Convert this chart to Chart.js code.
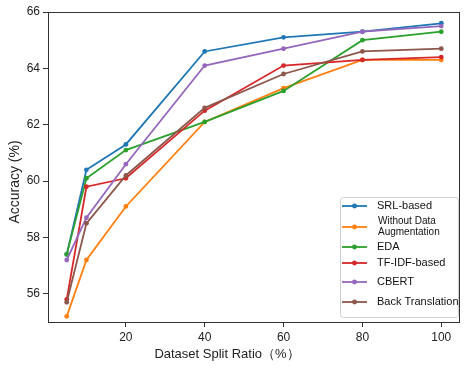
<!DOCTYPE html>
<html>
<head>
<meta charset="utf-8">
<script src="https://cdn.jsdelivr.net/npm/chart.js@4"></script>
<style>
  html, body { margin: 0; padding: 0; background: #fff; }
</style>
</head>
<body>
<canvas id="accChart" width="469" height="370"></canvas>
<script>
const splitRatios = [5, 10, 20, 40, 60, 80, 100];
const srlBased = [57.4, 60.4, 61.3, 64.6, 65.1, 65.3, 65.6];
const withoutAug = [55.2, 57.2, 59.1, 62.1, 63.3, 64.3, 64.3];
const eda = [57.4, 60.1, 61.1, 62.1, 63.2, 65.0, 65.3];
const tfidf = [55.8, 59.8, 60.1, 62.5, 64.1, 64.3, 64.4];
const cbert = [57.2, 58.7, 60.6, 64.1, 64.7, 65.3, 65.5];
const backTrans = [55.7, 58.5, 60.2, 62.6, 63.8, 64.6, 64.7];

const seriesLabels = ["SRL-based", ["Without Data", "Augmentation"], "EDA", "TF-IDF-based", "CBERT", "Back Translation"];
const seriesValues = [srlBased, withoutAug, eda, tfidf, cbert, backTrans];
const colors = ["#1f77b4", "#ff7f0e", "#2ca02c", "#d62728", "#9467bd", "#8c564b"];

const xTicks = [20, 40, 60, 80, 100];
const yTicks = [56, 58, 60, 62, 64, 66];
const xTitle = "Dataset Split Ratio（%）";
const yTitle = "Accuracy (%)";

Chart.defaults.font.family = '"Liberation Sans", Arial, sans-serif';
Chart.defaults.color = "#222";

const datasets = seriesValues.map((vals, i) => ({
  label: seriesLabels[i],
  data: vals.map((v, j) => ({ x: splitRatios[j], y: v })),
  borderColor: colors[i],
  backgroundColor: colors[i],
  borderWidth: 1.8,
  pointRadius: 2.4,
  pointBorderWidth: 0,
  // matplotlib puts later series on top
  order: seriesValues.length - i
}));

// frame, axis titles and legend box drawn by hand
const extras = {
  id: "extras",
  afterDatasetsDraw(chart) {
    const { ctx, chartArea: a } = chart;
    ctx.save();
    ctx.strokeStyle = "#333";
    ctx.lineWidth = 1;
    ctx.strokeRect(a.left + 0.5, a.top + 0.5, a.right - a.left - 1, a.bottom - a.top);
    ctx.restore();
  },
  afterDraw(chart) {
    const ctx = chart.ctx;
    ctx.save();
    ctx.fillStyle = "#222";
    ctx.textAlign = "center";
    ctx.textBaseline = "middle";
    ctx.font = '13px "Liberation Sans", Arial, sans-serif';
    ctx.fillText(xTitle, 227, 354);
    ctx.translate(15, 182);
    ctx.rotate(-Math.PI / 2);
    ctx.font = '14px "Liberation Sans", Arial, sans-serif';
    ctx.fillText(yTitle, 0, 0);
    ctx.restore();

    // legend
    const bx = 340, by = 197, bw = 118, bh = 120;
    const rowY = [9, 30, 50, 66, 85, 105];
    ctx.save();
    ctx.beginPath();
    ctx.roundRect(bx + 0.5, by + 0.5, bw, bh, 3);
    ctx.fillStyle = "rgba(255,255,255,0.85)";
    ctx.fill();
    ctx.strokeStyle = "#d0d0d0";
    ctx.lineWidth = 1;
    ctx.stroke();
    chart.data.datasets.forEach((ds, i) => {
      const y = by + rowY[i];
      ctx.strokeStyle = ds.borderColor;
      ctx.lineWidth = 1.8;
      ctx.beginPath();
      ctx.moveTo(bx + 2, y);
      ctx.lineTo(bx + 27, y);
      ctx.stroke();
      ctx.fillStyle = ds.borderColor;
      ctx.beginPath();
      ctx.arc(bx + 14.5, y, 2.4, 0, Math.PI * 2);
      ctx.fill();
      ctx.fillStyle = "#111";
      ctx.textAlign = "left";
      ctx.textBaseline = "middle";
      if (Array.isArray(ds.label)) {
        ctx.font = '10px "Liberation Sans", Arial, sans-serif';
        ctx.fillText(ds.label[0], bx + 38, y - 5.5);
        ctx.fillText(ds.label[1], bx + 38, y + 5.5);
      } else {
        ctx.font = '11px "Liberation Sans", Arial, sans-serif';
        ctx.fillText(ds.label, bx + 37, y);
      }
    });
    ctx.restore();
  }
};

new Chart(document.getElementById("accChart"), {
  type: "line",
  data: { datasets: datasets },
  options: {
    responsive: false,
    animation: false,
    layout: { padding: { top: 12, right: 9, left: 0, bottom: 0 } },
    plugins: {
      legend: { display: false },
      tooltip: { enabled: false }
    },
    scales: {
      x: {
        type: "linear",
        min: 0.25,
        max: 104.75,
        afterBuildTicks: s => { s.ticks = xTicks.map(v => ({ value: v })); },
        afterFit: s => { s.height = 48; },
        border: { display: false },
        grid: { drawOnChartArea: false, tickLength: 5, tickColor: "#333" },
        ticks: { font: { size: 12 }, padding: 3, maxRotation: 0 }
      },
      y: {
        min: 55,
        max: 66,
        afterBuildTicks: s => { s.ticks = yTicks.map(v => ({ value: v })); },
        afterFit: s => { s.width = 48; },
        border: { display: false },
        grid: { drawOnChartArea: false, tickLength: 5, tickColor: "#333" },
        ticks: { font: { size: 12 }, padding: 3 }
      }
    }
  },
  plugins: [extras]
});
</script>
</body>
</html>
